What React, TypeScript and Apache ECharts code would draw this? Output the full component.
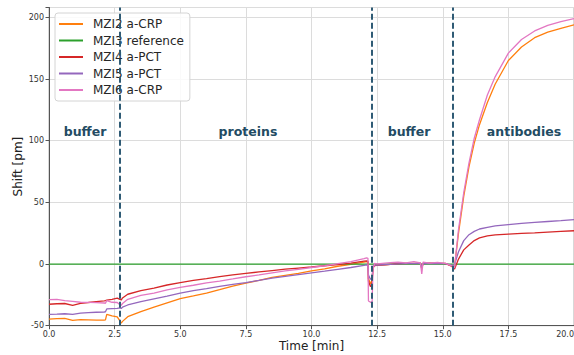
import React, { useEffect, useRef } from "react";
import * as echarts from "echarts";

// Time axis shared by the measured channels (minutes)
const time = [
  0, 0.3, 0.6, 0.9, 1.2, 1.5, 1.8, 2.1,
  2.15, 2.2, 2.4, 2.6, 2.7, 2.75, 2.8,
  3.0, 3.5, 4.0, 4.5, 5.0, 5.5, 6.0, 6.5, 7.0, 7.5,
  8.0, 8.5, 9.0, 9.5, 10.0, 10.5, 11.0, 11.5, 12.0,
  12.1, 12.15, 12.17, 12.25, 12.31, 12.34, 12.4,
  12.5, 12.7, 13.0, 13.3, 13.6, 13.9,
  14.15, 14.2, 14.25, 14.5, 14.8, 15.1,
  15.35, 15.45, 15.6, 15.8, 16.0, 16.2, 16.4, 16.7, 17.0,
  17.5, 18.0, 18.5, 19.0, 19.5, 20.0,
];

// MZI2 a-CRP (shift, pm)
const mzi2 = [
  -44.6, -44.2, -44.0, -45.6, -45.0, -45.2, -45.4, -45.5,
  -45.3, -40.8, -42.0, -42.8, -46.0, -48.0, -46.5,
  -42.7, -38.6, -35.0, -31.5, -28.0, -25.8, -23.5, -20.8, -18.0, -15.5,
  -13.2, -10.9, -9.2, -7.5, -5.6, -4.0, -1.8, -0.2, 1.6,
  2.0, 1.8, -12, -16, -13, -3, -1.0,
  -1.0, -0.8, -0.3, 0.2, 0.5, 0.4,
  0.6, -3.0, 0.5, 0.6, 0.5, 0.4,
  -1.5, -2.0, 25, 55, 79, 98, 113, 131, 146,
  165, 176, 183.5, 188, 191, 194,
];

// MZI3 reference
const mzi3Time = [0, 20];
const mzi3 = [0, 0];

// MZI4 a-PCT
const mzi4 = [
  -32.6, -32.2, -32.0, -33.5, -31.8, -31.2, -30.4, -29.8,
  -29.6, -29.3, -28.6, -27.6, -28.6, -29.2, -27.5,
  -24.5, -21.5, -19.5, -17.0, -15.0, -13.3, -11.8, -10.2, -8.8, -7.6,
  -6.4, -5.3, -4.2, -3.3, -2.4, -1.4, -0.4, 0.8, 2.3,
  2.6, 2.4, -14, -18.5, -15, -3, -1.2,
  -1.0, -0.7, -0.2, 0.3, 0.6, 0.5,
  0.7, -4.0, 0.6, 0.7, 0.6, 0.5,
  -2.0, -4.0, 4.0, 11.5, 15.5, 19.0, 21.2, 22.8, 23.6,
  24.3, 24.8, 25.3, 25.9, 26.5, 27.0,
];

// MZI5 a-PCT
const mzi5 = [
  -40.8, -40.6, -40.3, -40.8, -39.8, -39.4, -39.1, -38.9,
  -38.7, -36.4, -36.2, -36.0, -35.5, -36.0, -35.0,
  -33.2, -30.5, -28.2, -26.0, -23.5, -21.6, -20.0, -18.2, -16.5, -15.0,
  -13.3, -11.5, -10.0, -8.6, -7.2, -5.8, -4.3, -2.8, -1.0,
  -0.6, -0.8, -9, -12.5, -11, -2, -0.8,
  -0.9, -0.6, -0.2, 0.2, 0.4, 0.3,
  0.5, -2.5, 0.4, 0.5, 0.4, 0.3,
  -1.0, -0.5, 10, 19, 23.8, 26.5, 28.4, 29.8, 30.9,
  32.0, 33.0, 33.8, 34.5, 35.2, 36.0,
];

// MZI6 a-CRP
const mzi6 = [
  -28.9, -28.6, -29.7, -30.3, -31.0, -31.1, -31.3, -31.6,
  -31.8, -29.7, -31.0, -31.2, -33.0, -33.5, -32.0,
  -28.6, -25.5, -23.5, -21.0, -19.0, -17.2, -15.2, -13.8, -12.1, -10.3,
  -8.8, -7.2, -5.6, -4.3, -2.8, -1.4, 0.3, 2.0, 4.3,
  5.0, 4.6, -30, -31, -31, -5, 0.5,
  0.2, 0.6, 1.2, 1.6, 1.0, 2.0,
  1.0, -8.0, 1.5, 0.8, 1.3, 0.6,
  -1.5, -3.0, 28, 58, 82, 102, 117, 137, 152,
  171, 182, 189, 193.5, 196.5, 199,
];

const seriesNames = ["MZI2 a-CRP", "MZI3 reference", "MZI4 a-PCT", "MZI5 a-PCT", "MZI6 a-CRP"];
const seriesColors = ["#ff7f0e", "#2ca02c", "#d62728", "#9467bd", "#e377c2"];
const phaseBoundaries = [2.7, 12.29, 15.37];
const phaseLabels = ["buffer", "proteins", "buffer", "antibodies"];

const FONT = "DejaVu Sans";

export default function App() {
  const ref = useRef<HTMLDivElement>(null);

  useEffect(() => {
    if (!ref.current) return;
    const chart = echarts.init(ref.current, null, { renderer: "svg" });
    const zip = (ts: number[], vs: number[]) => ts.map((t, i) => [t, vs[i]]);
    const datasets = [
      zip(time, mzi2),
      zip(mzi3Time, mzi3),
      zip(time, mzi4),
      zip(time, mzi5),
      zip(time, mzi6),
    ];

    const labelX = [85, 248, 409, 524];

    const option: any = {
      animation: false,
      backgroundColor: "#ffffff",
      grid: {
        left: 49,
        right: 0,
        top: 7.5,
        bottom: 29.3,
        show: true,
        borderColor: "#b0b0b0",
        borderWidth: 1,
        backgroundColor: "transparent",
        containLabel: false,
        outerBoundsMode: "none",
      },
      legend: {
        data: seriesNames,
        orient: "vertical",
        left: 55,
        top: 13,
        icon: "rect",
        itemWidth: 24,
        itemHeight: 2,
        itemGap: 2.5,
        padding: [4, 6, 4, 4],
        backgroundColor: "rgba(255,255,255,0.85)",
        borderColor: "#d4d4d4",
        borderWidth: 1,
        borderRadius: 3,
        textStyle: {
          fontFamily: FONT,
          fontSize: 12,
          color: "#262626",
          lineHeight: 14,
          padding: [0, 0, 0, 5],
        },
      },
      xAxis: {
        type: "value",
        min: 0,
        max: 20,
        interval: 2.5,
        name: "Time [min]",
        nameLocation: "middle",
        nameGap: 14,
        nameMoveOverlap: false,
        nameTextStyle: { fontFamily: FONT, fontSize: 12, color: "#222", lineHeight: 13 },
        axisLine: { show: true, onZero: false, lineStyle: { color: "#555", width: 1 } },
        axisTick: { show: true, inside: false, length: 3.5, lineStyle: { color: "#555" } },
        axisLabel: {
          fontFamily: FONT,
          fontSize: 8,
          color: "#333",
          margin: 5,
          showMinLabel: true,
          showMaxLabel: true,
          alignMaxLabel: "right",
          formatter: (v: number) => v.toFixed(1),
        },
        splitLine: { show: true, lineStyle: { color: "#dcdcdc", width: 1 } },
      },
      yAxis: {
        type: "value",
        min: -50,
        max: 208,
        interval: 50,
        name: "Shift [pm]",
        nameLocation: "middle",
        nameGap: 25,
        nameMoveOverlap: false,
        nameTextStyle: { fontFamily: FONT, fontSize: 12, color: "#222" },
        axisLine: { show: true, onZero: false, lineStyle: { color: "#555", width: 1 } },
        axisTick: { show: true, inside: false, length: 3.5, lineStyle: { color: "#555" } },
        axisLabel: {
          fontFamily: FONT,
          fontSize: 8,
          color: "#333",
          margin: 5,
          formatter: (v: number) => (Math.abs(v % 50) < 1e-9 ? String(v) : ""),
        },
        splitLine: { show: true, lineStyle: { color: "#dcdcdc", width: 1 } },
      },
      series: [
        ...seriesNames.map((name, i) => ({
          name,
          type: "line",
          data: datasets[i],
          showSymbol: false,
          symbol: "none",
          lineStyle: { width: 1.3, color: seriesColors[i] },
          itemStyle: { color: seriesColors[i] },
          z: 2 + i * 0.01,
        })),
        {
          name: "phases",
          type: "line",
          data: [],
          z: 5,
          markLine: {
            silent: true,
            symbol: ["none", "none"],
            label: { show: false },
            lineStyle: { color: "#2f5b75", width: 2, type: [6, 3] },
            data: phaseBoundaries.map((x) => ({ xAxis: x })),
          },
        },
      ],
      graphic: phaseLabels.map((label, i) => ({
        type: "text",
        x: labelX[i],
        y: 131,
        z: 10,
        style: {
          text: label,
          fill: "#234b63",
          font: `bold 12.5px "${FONT}"`,
          textAlign: "center",
          textVerticalAlign: "middle",
        },
      })),
    };

    chart.setOption(option);
    return () => chart.dispose();
  }, []);

  return (
    <div
      ref={ref}
      style={{ position: "absolute", left: 0, top: 0, width: 574, height: 355 }}
    />
  );
}
